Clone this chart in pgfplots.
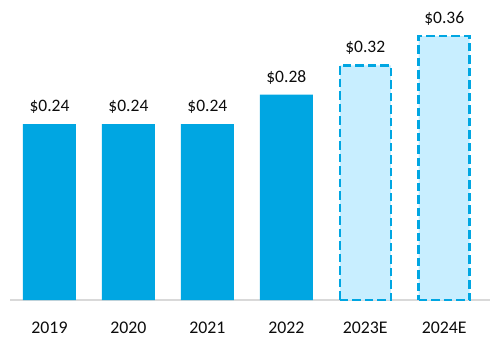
\documentclass[border=0pt]{standalone}
\usepackage{fontspec}
\setmainfont{Carlito}
\usepackage{pgfplots}
\pgfplotsset{compat=1.18}
\definecolor{barblue}{RGB}{0,166,226}
\definecolor{lightfill}{RGB}{200,238,255}
\definecolor{basegray}{RGB}{217,217,217}
\definecolor{txt}{RGB}{12,12,12}
\begin{document}
\begin{tikzpicture}[x=1pt,y=1pt]
\begin{axis}[
  at={(10pt,0pt)}, anchor=south west,
  scale only axis, width=480pt, height=300pt,
  xmin=-0.5, xmax=5.58, ymin=0, ymax=0.4091,
  axis y line=none,
  axis x line*=bottom,
  x axis line style={basegray, line width=1.5pt, -},
  xtick={0,1,2,3,4,5},
  xticklabels={2019,2020,2021,2022,2023E,2024E},
  xtick style={draw=none},
  ytick=\empty,
  xticklabel style={anchor=base, inner sep=0pt, yshift=-29pt, font=\fontsize{17.8}{20}\selectfont, text=txt},
  /pgf/number format/assume math mode=true,
  ybar, bar shift=0pt,
  point meta=explicit symbolic,
  nodes near coords,
  nodes near coords style={anchor=base, inner sep=0pt, yshift=12.5pt, font=\fontsize{17.5}{20}\selectfont, text=txt},
  clip=false,
]
\addplot[fill=barblue, draw=none, bar width=53pt] coordinates {
  (0,0.24) [\$0.24]
  (1,0.24) [\$0.24]
  (2,0.24) [\$0.24]
  (3,0.28) [\$0.28]
};
\addplot[fill=lightfill, draw=barblue, line width=2.5pt, dash pattern=on 8.5pt off 4pt, bar width=51pt] coordinates {
  (4,0.32) [\$0.32]
  (5,0.36) [\$0.36]
};
\end{axis}
\pgfresetboundingbox
\path[use as bounding box] (0,-41) rectangle (497,300);
\end{tikzpicture}
\end{document}
